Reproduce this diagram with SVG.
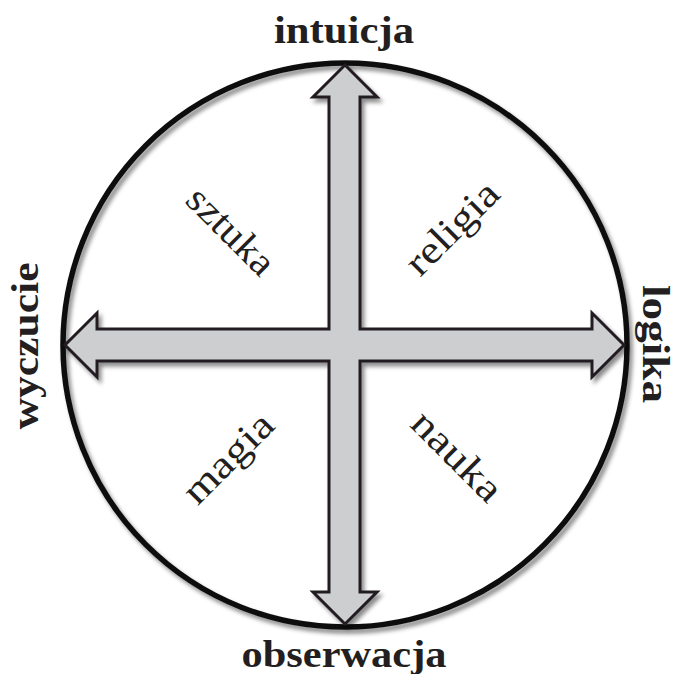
<svg xmlns="http://www.w3.org/2000/svg" width="677" height="674" viewBox="0 0 677 674">
<defs>
<filter id="sh" x="-10%" y="-10%" width="120%" height="120%">
<feDropShadow dx="3" dy="4" stdDeviation="2" flood-color="#000" flood-opacity="0.45"/>
</filter>
<style>
.axis{font-family:"Liberation Serif","DejaVu Serif",serif;font-weight:bold;font-size:38px;fill:#231f20}
.q{font-family:"Liberation Serif","DejaVu Serif",serif;font-size:39px;fill:#231f20}
</style>
</defs>
<rect width="677" height="674" fill="#fff"/>
<g id="circle" filter="url(#sh)">
<circle cx="345" cy="345" r="282" fill="none" stroke="#111" stroke-width="5.5"/>
</g>
<g id="connectors" filter="url(#sh)">
<polygon points="345,65 377,97 360,97 360,329 592,329 592,313 624,345 592,377 592,361 360,361 360,592 377,592 345,624 313,592 329,592 329,361 97,361 97,377 65,345 97,313 97,329 329,329 329,97 313,97" fill="#cdced0" stroke="#231f20" stroke-width="3" stroke-linejoin="miter"/>
</g>
<g id="intuicja"><text class="axis" x="344" y="43" text-anchor="middle" textLength="140" lengthAdjust="spacingAndGlyphs">intuicja</text></g>
<g id="obserwacja"><text class="axis" x="344" y="667" text-anchor="middle" textLength="205" lengthAdjust="spacingAndGlyphs">obserwacja</text></g>
<g id="logika"><text class="axis" transform="translate(643,344) rotate(90)" x="0" y="0" text-anchor="middle" font-size="35" textLength="118" lengthAdjust="spacingAndGlyphs">logika</text></g>
<g id="wyczucie"><text class="axis" transform="translate(38,346) rotate(-90)" x="0" y="0" text-anchor="middle" textLength="167" lengthAdjust="spacingAndGlyphs">wyczucie</text></g>
<g id="sztuka"><text class="q" transform="translate(222,240) rotate(45)" text-anchor="middle" textLength="108" lengthAdjust="spacingAndGlyphs">sztuka</text></g>
<g id="religia"><text class="q" transform="translate(461,237) rotate(-45)" text-anchor="middle" textLength="116" lengthAdjust="spacingAndGlyphs">religia</text></g>
<g id="magia"><text class="q" transform="translate(237,467) rotate(-45)" text-anchor="middle" textLength="112" lengthAdjust="spacingAndGlyphs">magia</text></g>
<g id="nauka"><text class="q" transform="translate(448,465) rotate(45)" text-anchor="middle" textLength="112" lengthAdjust="spacingAndGlyphs">nauka</text></g>
</svg>
